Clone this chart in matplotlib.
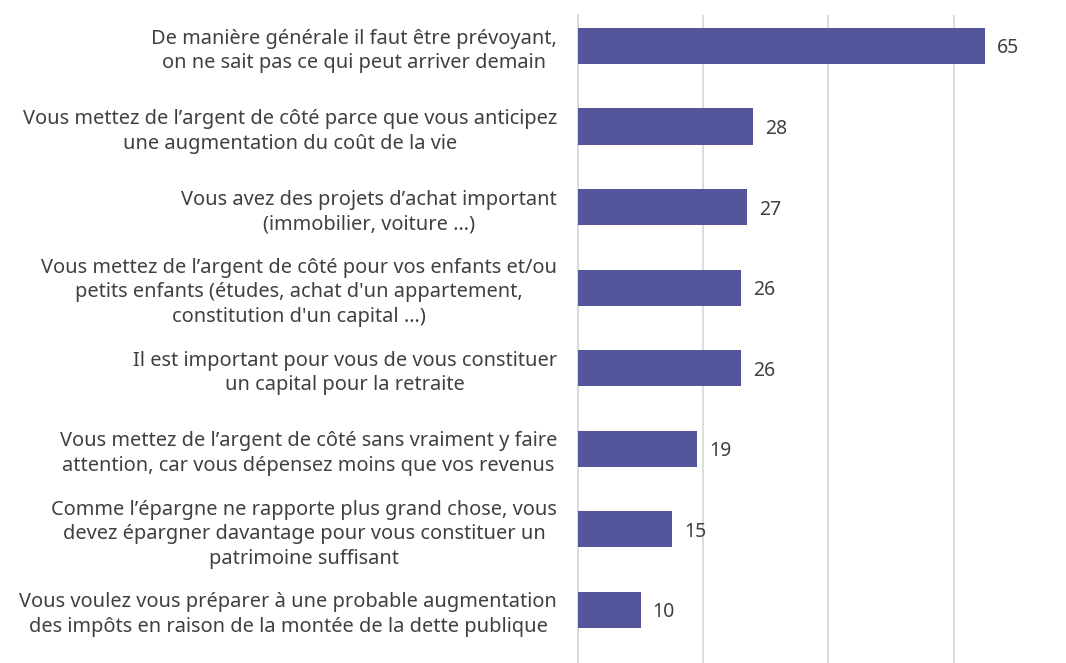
"""Raisons d'épargner - horizontal bar chart."""

import matplotlib
matplotlib.use("Agg")
import matplotlib.pyplot as plt

LABELS = [
    "De manière générale il faut être prévoyant,\non ne sait pas ce qui peut arriver demain",
    "Vous mettez de l’argent de côté parce que vous anticipez\nune augmentation du coût de la vie",
    "Vous avez des projets d’achat important\n(immobilier, voiture …)",
    "Vous mettez de l’argent de côté pour vos enfants et/ou\npetits enfants (études, achat d'un appartement,\nconstitution d'un capital …)",
    "Il est important pour vous de vous constituer\nun capital pour la retraite",
    "Vous mettez de l’argent de côté sans vraiment y faire\nattention, car vous dépensez moins que vos revenus",
    "Comme l’épargne ne rapporte plus grand chose, vous\ndevez épargner davantage pour vous constituer un\npatrimoine suffisant",
    "Vous voulez vous préparer à une probable augmentation\ndes impôts en raison de la montée de la dette publique",
]
VALUES = [65, 28, 27, 26, 26, 19, 15, 10]

BAR_COLOR = "#55559b"
TEXT_COLOR = "#404040"
GRID_COLOR = "#d9d9d9"

plt.rcParams["font.family"] = ["Noto Sans", "DejaVu Sans"]

fig = plt.figure(figsize=(10.66, 6.63), dpi=100)
ax = fig.add_axes([578 / 1066, 0.0, 488 / 1066, 1 - 15 / 663])

pos = list(range(len(VALUES)))
ax.barh(pos, VALUES, height=0.45, color=BAR_COLOR, zorder=3)
for y, v in zip(pos, VALUES):
    ax.text(v + 1.9, y + 0.03, str(v), va="center", ha="left", fontsize=14,
            color=TEXT_COLOR)

ax.set_xlim(0, 77.94)
ax.set_ylim(7.66, -0.385)
ax.set_xticks([0, 20, 40, 60])
ax.tick_params(axis="x", length=0, labelbottom=False)
ax.grid(axis="x", color=GRID_COLOR, linewidth=1.3, zorder=0)

ax.set_yticks(pos)
ax.set_yticklabels(LABELS, fontsize=14.4, color=TEXT_COLOR, multialignment="center",
                   linespacing=1.3)
ax.tick_params(axis="y", length=0, pad=15)

for side in ("top", "right", "bottom"):
    ax.spines[side].set_visible(False)
ax.spines["left"].set_color(GRID_COLOR)
ax.spines["left"].set_linewidth(1.3)

fig.savefig("out.png", dpi=100)
